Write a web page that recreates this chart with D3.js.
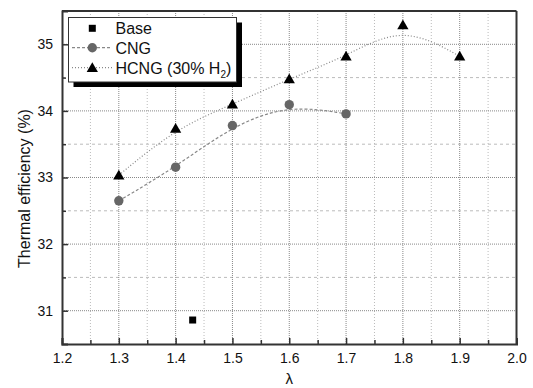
<!DOCTYPE html>
<html><head><meta charset="utf-8">
<script src="https://cdn.jsdelivr.net/npm/d3@7"></script>
<style>body{margin:0;background:#fff}svg{display:block;font-family:"Liberation Sans",Arial,sans-serif}</style>
</head><body><svg id="c" width="533" height="388"></svg>
<script>
const baseX = [1.43];
const baseY = [30.86];
const cngX = [1.3, 1.4, 1.5, 1.6, 1.7];
const cngY = [32.65, 33.155, 33.78, 34.094, 33.955];
const hcngX = [1.3, 1.4, 1.5, 1.6, 1.7, 1.8, 1.9];
const hcngY = [33.035, 33.735, 34.10, 34.48, 34.82, 35.29, 34.82];
const xTicks = [1.2, 1.3, 1.4, 1.5, 1.6, 1.7, 1.8, 1.9, 2.0];
const yTicks = [31, 32, 33, 34, 35];
const legendLabels = ["Base", "CNG", "HCNG (30% H"];

const svg = d3.select("#c");
const L = 62, R = 516.5, T = 11, B = 344;
const x = d3.scaleLinear().domain([1.2, 2.0]).range([L, R]);
const y = d3.scaleLinear().domain([30.5, 35.5]).range([B, T]);

const xMinor = d3.range(1.25, 2.0, 0.1);
const yMinor = [31.5, 32.5, 33.5, 34.5];

// minor grid
const g = svg.append("g");
g.selectAll(".vxm").data(xMinor).join("line")
  .attr("x1", d => x(d)).attr("x2", d => x(d)).attr("y1", T).attr("y2", B)
  .attr("stroke", "#bbb").attr("stroke-width", 1).attr("stroke-dasharray", "1,2");
g.selectAll(".hym").data(yMinor).join("line")
  .attr("x1", L).attr("x2", R).attr("y1", d => y(d)).attr("y2", d => y(d))
  .attr("stroke", "#bbb").attr("stroke-width", 1).attr("stroke-dasharray", "3,3");
// major grid
g.selectAll(".vx").data(xTicks.slice(1, -1)).join("line")
  .attr("x1", d => x(d)).attr("x2", d => x(d)).attr("y1", T).attr("y2", B)
  .attr("stroke", "#888").attr("stroke-width", 1).attr("stroke-dasharray", "1,1");
g.selectAll(".hy").data(yTicks).join("line")
  .attr("x1", L).attr("x2", R).attr("y1", d => y(d)).attr("y2", d => y(d))
  .attr("stroke", "#888").attr("stroke-width", 1).attr("stroke-dasharray", "1,1");

// frame top/right
svg.append("line").attr("x1", L).attr("x2", R).attr("y1", T).attr("y2", T).attr("stroke", "#333").attr("stroke-width", 2);
svg.append("line").attr("x1", R).attr("x2", R).attr("y1", T).attr("y2", B).attr("stroke", "#333").attr("stroke-width", 2);

// axes
const xAxis = d3.axisBottom(x).tickValues(xTicks).tickFormat(d3.format(".1f")).tickSize(-6).tickPadding(9);
const gx = svg.append("g").attr("transform", `translate(0,${B})`).call(xAxis);
gx.select(".domain").attr("stroke", "#333").attr("stroke-width", 2);
gx.selectAll(".tick line").attr("stroke", "#333").attr("stroke-width", 1.5);
gx.selectAll("text").attr("font-size", 14).attr("fill", "#111").attr("font-family", "Liberation Sans, Arial");
svg.append("g").attr("transform", `translate(0,${B})`)
  .call(d3.axisBottom(x).tickValues(xMinor).tickFormat("").tickSize(-4))
  .call(s => { s.select(".domain").remove(); s.selectAll("line").attr("stroke", "#333").attr("stroke-width", 1.5); });

const yAxis = d3.axisLeft(y).tickValues(yTicks).tickFormat(d3.format("d")).tickSize(-6).tickPadding(9);
const gy = svg.append("g").attr("transform", `translate(${L},0)`).call(yAxis);
gy.select(".domain").attr("stroke", "#333").attr("stroke-width", 2);
gy.selectAll(".tick line").attr("stroke", "#333").attr("stroke-width", 1.5);
gy.selectAll("text").attr("font-size", 14).attr("fill", "#111").attr("font-family", "Liberation Sans, Arial");
svg.append("g").attr("transform", `translate(${L},0)`)
  .call(d3.axisLeft(y).tickValues(yMinor).tickFormat("").tickSize(-4))
  .call(s => { s.select(".domain").remove(); s.selectAll("line").attr("stroke", "#333").attr("stroke-width", 1.5); });

// titles
svg.append("text").attr("x", (L + R) / 2).attr("y", 384).attr("text-anchor", "middle")
  .attr("font-size", 15).attr("fill", "#111").text("λ");
svg.append("text").attr("transform", `translate(30,${(107 + 270) / 2}) rotate(-90)`)
  .attr("text-anchor", "middle").attr("font-size", 16).attr("fill", "#111").text("Thermal efficiency (%)");

// fit lines (B-spline through data points as control points)
const cng = cngX.map((d, i) => [d, cngY[i]]);
const hcng = hcngX.map((d, i) => [d, hcngY[i]]);
const line = d3.line().x(d => x(d[0])).y(d => y(d[1])).curve(d3.curveBasis);
svg.append("path").attr("d", line(cng)).attr("fill", "none").attr("stroke", "#888").attr("stroke-width", 1.2).attr("stroke-dasharray", "3,2");
svg.append("path").attr("d", line(hcng)).attr("fill", "none").attr("stroke", "#888").attr("stroke-width", 1.2).attr("stroke-dasharray", "1,2");

// markers
const tri = d3.symbol().type(d3.symbolTriangle).size(55);
svg.selectAll(".b").data(baseX).join("rect")
  .attr("x", (d) => x(d) - 3.5).attr("y", (d, i) => y(baseY[i]) - 3.5).attr("width", 7).attr("height", 7).attr("fill", "#000");
svg.selectAll(".cn").data(cng).join("circle")
  .attr("cx", d => x(d[0])).attr("cy", d => y(d[1])).attr("r", 4.7).attr("fill", "#666");
svg.selectAll(".hc").data(hcng).join("path")
  .attr("d", tri).attr("transform", d => `translate(${x(d[0])},${y(d[1]) + 1})`).attr("fill", "#000");

// legend
const lg = svg.append("g");
lg.append("rect").attr("x", 73.5).attr("y", 22.5).attr("width", 168.5).attr("height", 64.5).attr("fill", "#000");
lg.append("rect").attr("x", 68.5).attr("y", 17.5).attr("width", 168).attr("height", 64.5).attr("fill", "#fff").attr("stroke", "#333").attr("stroke-width", 1);
const ly = [28.3, 47.7, 67.7];
lg.append("rect").attr("x", 92.3 - 3.5).attr("y", ly[0] - 3.5).attr("width", 7).attr("height", 7).attr("fill", "#000");
lg.append("line").attr("x1", 72).attr("x2", 112).attr("y1", ly[1]).attr("y2", ly[1]).attr("stroke", "#888").attr("stroke-width", 1.2).attr("stroke-dasharray", "3,2");
lg.append("circle").attr("cx", 92.3).attr("cy", ly[1]).attr("r", 4.7).attr("fill", "#666");
lg.append("line").attr("x1", 72).attr("x2", 112).attr("y1", ly[2]).attr("y2", ly[2]).attr("stroke", "#888").attr("stroke-width", 1.2).attr("stroke-dasharray", "1,2");
lg.append("path").attr("d", tri).attr("transform", `translate(92.3,${ly[2] + 1})`).attr("fill", "#000");
legendLabels.forEach((t, i) => {
  const tx = lg.append("text").attr("x", 115.5).attr("y", ly[i] + 6).attr("font-size", 16).attr("fill", "#111").text(t);
  if (i === 2) {
    tx.append("tspan").attr("font-size", 10).attr("dy", 4).text("2");
    tx.append("tspan").attr("dy", -4).text(")");
  }
});
</script></body></html>
